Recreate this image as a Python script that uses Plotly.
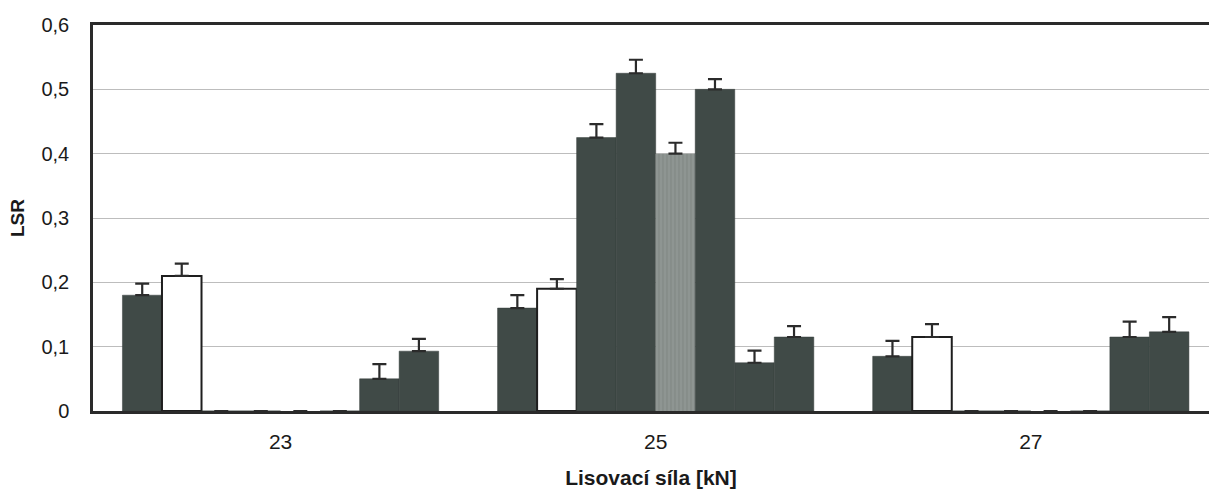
import plotly.graph_objects as go

categories = ["23", "25", "27"]

s1 = [0.18, 0.16, 0.085]
s2 = [0.21, 0.19, 0.115]
s3 = [0, 0.425, 0]
s4 = [0, 0.525, 0]
s5 = [0, 0.40, 0]
s6 = [0, 0.50, 0]
s7 = [0.05, 0.075, 0.115]
s8 = [0.093, 0.115, 0.123]

e1 = [0.018, 0.02, 0.024]
e2 = [0.019, 0.015, 0.02]
e3 = [None, 0.021, None]
e4 = [None, 0.021, None]
e5 = [None, 0.017, None]
e6 = [None, 0.016, None]
e7 = [0.023, 0.019, 0.024]
e8 = [0.019, 0.017, 0.023]

series = [s1, s2, s3, s4, s5, s6, s7, s8]
errors = [e1, e2, e3, e4, e5, e6, e7, e8]

DARK = "#404a47"
fills = [DARK, "#ffffff", DARK, DARK, "#8a918e", DARK, DARK, DARK]
lines = ["#353d3b", "#1e1e1e", "#353d3b", "#353d3b", "#6f7673", "#353d3b", "#353d3b", "#353d3b"]
widths = [0.5, 2, 0.5, 0.5, 0, 0.5, 0.5, 0.5]

fig = go.Figure()
for i, (vals, errs) in enumerate(zip(series, errors)):
    marker = dict(color=fills[i], line=dict(color=lines[i], width=widths[i]))
    if i == 4:
        marker["pattern"] = dict(shape="|", fgcolor="#737a77", bgcolor="#8e9592", size=4, solidity=0.3)
    fig.add_trace(go.Bar(
        x=categories, y=vals, name=f"s{i+1}",
        marker=marker,
        error_y=dict(type="data", array=errs, arrayminus=[0 if v is not None else None for v in errs],
                     symmetric=False, color="#2b2b2b", thickness=2.2, width=7),
        showlegend=False,
    ))

font_family = "Liberation Sans, Arial, sans-serif"
fig.update_layout(
    width=1209, height=493,
    margin=dict(l=93, r=0, t=25, b=82),
    paper_bgcolor="white", plot_bgcolor="white",
    barmode="group", bargap=0.157, bargroupgap=0,
    font=dict(family=font_family, size=20, color="#1a1a1a"),
    xaxis=dict(
        type="category", range=[-0.5, 2.475],
        showline=True, linecolor="#2a2a2a", linewidth=3, mirror=True,
        ticks="", showgrid=False, ticklabelstandoff=10,
        tickfont=dict(size=21),
        title=dict(text="<b>Lisovací síla [kN]</b>", font=dict(size=21), standoff=19),
    ),
    yaxis=dict(
        range=[0, 0.6], tickvals=[0, 0.1, 0.2, 0.3, 0.4, 0.5, 0.6],
        ticktext=["0", "0,1", "0,2", "0,3", "0,4", "0,5", "0,6"],
        showline=True, linecolor="#2a2a2a", linewidth=2.5,
        showgrid=True, gridcolor="#bdbdbd", gridwidth=1,
        ticks="", ticklabelstandoff=17, zeroline=False,
        tickfont=dict(size=20),
        title=dict(text="<b>LSR</b>", font=dict(size=19), standoff=12),
    ),
)

fig.write_html("out.html")
